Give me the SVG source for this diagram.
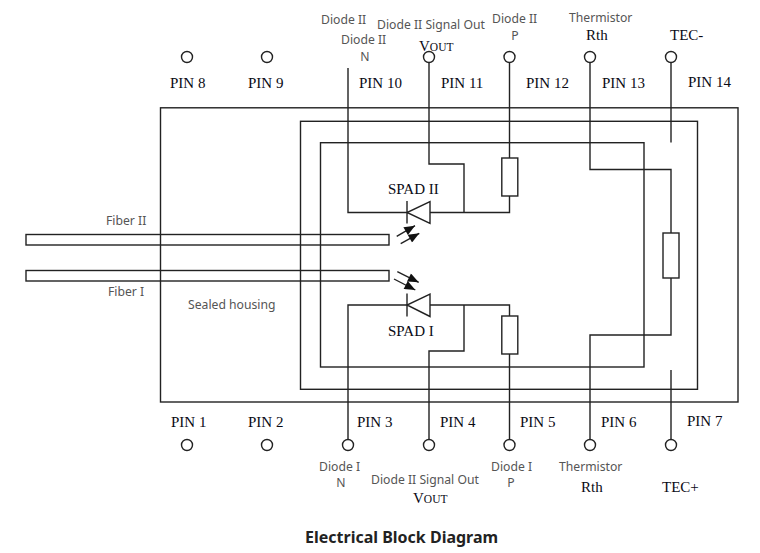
<svg xmlns="http://www.w3.org/2000/svg" width="760" height="553" viewBox="0 0 760 553">
<style>
.w{fill:none;stroke:#222;stroke-width:1.4}
.b{fill:#fff;stroke:#222;stroke-width:1.4}
.p{fill:#fff;stroke:#222;stroke-width:1.4}
.s{font-family:"Liberation Serif",serif;font-size:15px;fill:#0a0a14}
.g{font-family:"Noto Sans",sans-serif;font-size:12.200px;fill:#555}
.c{text-anchor:middle}
.t{font-family:"Noto Sans",sans-serif;font-size:16px;font-weight:700;fill:#222}
.o{font-size:11.500px}
</style>
<defs>
<marker id="a" viewBox="0 0 12 10" refX="12" refY="5" markerWidth="12" markerHeight="9" markerUnits="userSpaceOnUse" orient="auto"><path d="M0 0L12 5L0 10Z" fill="#111"/></marker>
</defs>
<g id="housing">
<rect class="w" x="160.500" y="107.800" width="577.500" height="294.200"/>
<rect class="w" x="300.500" y="121.300" width="397" height="268"/>
<rect class="w" x="320.500" y="142.700" width="323.500" height="224.300"/>
<text class="g" x="188" y="309">Sealed housing</text>
</g>
<g id="connectors">
<path class="w" d="M348 68V212.500H407M430 212.500H509.500V196M509.500 158V63M429 63V164H464V212.500"/>
<path class="w" d="M348 439V305H407M430 305H509.500V316M509.500 354V439M429 439V351H464V305"/>
<path class="w" d="M590 63V169.500H671V233M671 278V335H590V439M671 63V142.500M671 370V439"/>
<path class="w" marker-end="url(#a)" d="M396.700 236.300L415 225.700"/>
<path class="w" marker-end="url(#a)" d="M400.700 243.700L419.300 233.300"/>
<path class="w" marker-end="url(#a)" d="M397.300 271.700L418.700 282.300"/>
<path class="w" marker-end="url(#a)" d="M394 279L415.300 290"/>
</g>
<g id="fiber-2"><rect class="w" x="26" y="234.500" width="363" height="10.500"/><text class="g" x="106" y="225">Fiber II</text></g>
<g id="fiber-1"><rect class="w" x="26" y="270.500" width="363" height="10.500"/><text class="g" x="108" y="296">Fiber I</text></g>
<g id="spad-2"><path class="w" d="M407 201V223.500M430 201.500V223.500L407 212.500Z"/><text class="s" x="388" y="194">SPAD II</text></g>
<g id="spad-1"><path class="w" d="M407 293.500V316.500M430 294V316.500L407 305Z"/><text class="s" x="388" y="336">SPAD I</text></g>
<g id="r-top"><rect class="b" x="501.800" y="158" width="16" height="38"/></g>
<g id="r-bottom"><rect class="b" x="501.800" y="316" width="16" height="38"/></g>
<g id="r-thermistor"><rect class="b" x="663" y="233" width="16" height="45"/></g>
<g id="pin-8"><circle class="p" cx="187" cy="57" r="5.500"/><text class="s" x="170" y="88">PIN 8</text></g>
<g id="pin-9"><circle class="p" cx="267" cy="57" r="5.500"/><text class="s" x="248" y="88">PIN 9</text></g>
<g id="pin-10"><text class="s" x="359" y="88">PIN 10</text>
<text class="g" x="321" y="24">Diode II</text><text class="g" x="341" y="44">Diode II</text><text class="g c" x="365" y="61">N</text></g>
<g id="pin-11"><circle class="p" cx="429" cy="57" r="5.500"/><text class="s" x="441" y="88">PIN 11</text>
<text class="g" x="377" y="29">Diode II Signal Out</text><text class="s" x="419" y="51">V<tspan class="o">OUT</tspan></text></g>
<g id="pin-12"><circle class="p" cx="509.500" cy="57" r="5.500"/><text class="s" x="526" y="88">PIN 12</text>
<text class="g" x="492" y="23">Diode II</text><text class="g c" x="515" y="40">P</text></g>
<g id="pin-13"><circle class="p" cx="590" cy="57" r="5.500"/><text class="s" x="602" y="88">PIN 13</text>
<text class="g" x="569" y="22">Thermistor</text><text class="s" x="586" y="40">Rth</text></g>
<g id="pin-14"><circle class="p" cx="671" cy="57" r="5.500"/><text class="s" x="688" y="87">PIN 14</text>
<text class="s" x="670" y="40">TEC-</text></g>
<g id="pin-1"><circle class="p" cx="187" cy="445" r="5.500"/><text class="s" x="171" y="427">PIN 1</text></g>
<g id="pin-2"><circle class="p" cx="267" cy="445" r="5.500"/><text class="s" x="248" y="427">PIN 2</text></g>
<g id="pin-3"><circle class="p" cx="348" cy="445" r="5.500"/><text class="s" x="357" y="427">PIN 3</text>
<text class="g" x="319" y="471">Diode I</text><text class="g c" x="341" y="487">N</text></g>
<g id="pin-4"><circle class="p" cx="429" cy="445" r="5.500"/><text class="s" x="440" y="427">PIN 4</text>
<text class="g" x="371" y="484">Diode II Signal Out</text><text class="s" x="413" y="503">V<tspan class="o">OUT</tspan></text></g>
<g id="pin-5"><circle class="p" cx="509.500" cy="445" r="5.500"/><text class="s" x="520" y="427">PIN 5</text>
<text class="g" x="491" y="471">Diode I</text><text class="g c" x="511" y="487">P</text></g>
<g id="pin-6"><circle class="p" cx="590" cy="445" r="5.500"/><text class="s" x="601" y="427">PIN 6</text>
<text class="g" x="559" y="471">Thermistor</text><text class="s" x="581" y="492">Rth</text></g>
<g id="pin-7"><circle class="p" cx="671" cy="445" r="5.500"/><text class="s" x="687" y="426">PIN 7</text>
<text class="s" x="662" y="492">TEC+</text></g>
<text class="t" x="305" y="543">Electrical Block Diagram</text>
</svg>
